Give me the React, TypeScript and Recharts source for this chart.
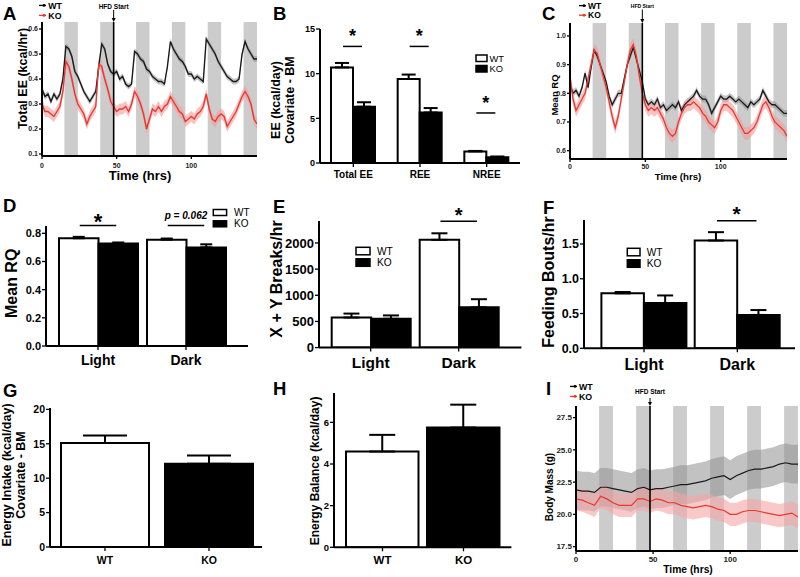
import React from 'react';
import {
  ComposedChart, BarChart, Bar, Line, Area, XAxis, YAxis,
  ReferenceArea, ReferenceLine, ErrorBar, LabelList, Cell,
} from 'recharts';

const FONT = '"Liberation Sans", Arial, Helvetica, sans-serif';

// ---------------- time-course data ----------------
const TIME = [0,2,4,6,8,10,12,14,16,18,20,22,24,26,28,30,32,34,36,38,40,42,44,46,48,50,52,54,56,58,60,62,64,66,68,70,72,74,76,78,80,82,84,86,88,90,92,94,96,98,100,102,104,106,108,110,112,114,116,118,120,122,124,126,128,130,132,134,136,138,140,142,144];
const DARK_START = [15, 39, 63, 87, 111, 135];
const DARK_END = [24, 48, 72, 96, 120, 144];
const HFD_START = 48;
const X_TICKS = [0, 50, 100];

// Panel A: Total EE (kcal/hr)
const A_WT = [
  0.36,0.33,0.34,0.31,0.34,0.32,0.34,0.40,
  0.53,0.52,0.49,0.43,0.41,0.38,0.35,0.33,
  0.31,0.33,0.35,0.45,0.54,0.52,0.46,0.43,
  0.42,0.43,0.40,0.41,0.38,0.37,0.38,0.51,
  0.50,0.48,0.47,0.44,0.43,0.41,0.40,0.39,
  0.39,0.38,0.45,0.55,0.52,0.50,0.48,0.47,
  0.45,0.42,0.42,0.40,0.41,0.40,0.39,0.56,
  0.54,0.52,0.50,0.47,0.45,0.43,0.41,0.40,
  0.39,0.39,0.40,0.50,0.55,0.52,0.50,0.48,
  0.48];
const A_KO = [
  0.30,0.27,0.27,0.26,0.25,0.27,0.29,0.35,
  0.47,0.45,0.40,0.34,0.30,0.28,0.26,0.22,
  0.25,0.27,0.29,0.46,0.45,0.40,0.36,0.31,
  0.29,0.27,0.28,0.28,0.29,0.27,0.30,0.35,
  0.33,0.30,0.26,0.20,0.24,0.28,0.27,0.29,
  0.27,0.29,0.30,0.33,0.31,0.29,0.27,0.26,
  0.23,0.24,0.25,0.24,0.26,0.27,0.29,0.34,
  0.28,0.24,0.23,0.25,0.26,0.25,0.21,0.23,
  0.25,0.27,0.30,0.33,0.35,0.33,0.30,0.24,
  0.22];
const A_WT_SEM = 0.012;
const A_KO_SEM = 0.022;
const A_Y_TICKS = [0.1, 0.2, 0.3, 0.4, 0.5, 0.6];

// Panel C: Mean RQ
const C_WT = [
  0.83,0.80,0.81,0.79,0.82,0.87,0.82,0.89,
  0.95,0.93,0.90,0.87,0.84,0.79,0.76,0.78,
  0.80,0.80,0.85,0.90,0.93,0.96,0.92,0.88,
  0.84,0.78,0.76,0.77,0.76,0.78,0.75,0.76,
  0.74,0.75,0.76,0.75,0.77,0.74,0.76,0.77,
  0.78,0.79,0.81,0.79,0.78,0.78,0.76,0.73,
  0.75,0.77,0.79,0.78,0.78,0.79,0.78,0.77,
  0.78,0.77,0.76,0.75,0.77,0.76,0.77,0.78,
  0.81,0.79,0.77,0.76,0.76,0.75,0.74,0.73,
  0.73];
const C_KO = [
  0.86,0.78,0.74,0.76,0.78,0.80,0.85,0.90,
  0.95,0.94,0.90,0.86,0.82,0.77,0.72,0.68,
  0.72,0.78,0.84,0.90,0.95,0.97,0.93,0.86,
  0.80,0.76,0.74,0.75,0.74,0.75,0.73,0.71,
  0.68,0.66,0.65,0.66,0.70,0.73,0.75,0.76,
  0.76,0.77,0.76,0.75,0.73,0.72,0.70,0.69,
  0.68,0.70,0.74,0.76,0.76,0.75,0.74,0.72,
  0.70,0.68,0.66,0.66,0.67,0.68,0.70,0.73,
  0.76,0.77,0.75,0.72,0.70,0.69,0.68,0.67,
  0.65];
const C_WT_SEM = 0.012;
const C_KO_SEM = 0.022;
const C_Y_TICKS = [0.6, 0.7, 0.8, 0.9, 1.0];

// Panel I: Body mass (g)
const I_TIME = [0,4,8,12,16,20,24,28,32,36,40,44,48,52,56,60,64,68,72,76,80,84,88,92,96,100,104,108,112,116,120,124,128,132,136,140,144];
const I_WT = [21.9,21.8,21.8,21.7,22.1,22.1,22.0,21.9,21.8,21.7,22.0,22.1,21.9,22.0,22.0,22.1,22.2,22.3,22.3,22.4,22.5,22.6,22.8,22.9,23.0,22.7,23.0,23.2,23.4,23.5,23.5,23.6,23.7,23.9,24.0,23.9,23.9];
const I_KO = [21.2,21.1,20.9,20.7,21.4,21.2,20.9,20.7,20.7,20.7,21.2,21.2,21.0,21.2,21.1,20.9,20.9,20.7,20.6,20.5,20.6,20.7,20.6,20.4,20.3,20.0,20.0,20.2,20.3,20.3,20.2,20.1,20.0,19.9,20.0,20.1,19.8];
const I_WT_SEM = 1.5;
const I_KO_SEM = 0.9;
const I_Y_TICKS = [17.5, 20, 22.5, 25, 27.5];

// ---------------- bar data ----------------
const B_CATS = ['Total EE', 'REE', 'NREE'];
const B_WT = [10.7, 9.4, 1.3];
const B_WT_SEM = [0.5, 0.5, 0.05];
const B_KO = [6.3, 5.65, 0.65];
const B_KO_SEM = [0.5, 0.5, 0.08];
const B_SIG = [13.05, 13.05, 5.6];
const B_MARK = ['*', '*', '*'];
const B_Y_TICKS = [0, 5, 10, 15];

const LD_CATS = ['Light', 'Dark'];
const D_WT = [0.765, 0.755];
const D_WT_SEM = [0.01, 0.008];
const D_KO = [0.727, 0.70];
const D_KO_SEM = [0.008, 0.022];
const D_SIG = [0.855, 0.855];
const D_MARK = ['*', 'p = 0.062'];
const D_Y_TICKS = [0, 0.2, 0.4, 0.6, 0.8];

const E_WT = [575, 2060];
const E_WT_SEM = [75, 125];
const E_KO = [550, 770];
const E_KO_SEM = [65, 155];
const E_SIG = [null, 2413];
const E_MARK = ['', '*'];
const E_Y_TICKS = [0, 500, 1000, 1500, 2000];

const F_WT = [0.79, 1.55];
const F_WT_SEM = [0.02, 0.12];
const F_KO = [0.65, 0.48];
const F_KO_SEM = [0.11, 0.07];
const F_SIG = [null, 1.833];
const F_MARK = ['', '*'];
const F_Y_TICKS = [0, 0.5, 1.0, 1.5];

const GENO = ['WT', 'KO'];
const G_VAL = [15.1, 12.1];
const G_SEM = [1.1, 1.2];
const G_Y_TICKS = [0, 5, 10, 15, 20];

const H_VAL = [4.6, 5.75];
const H_SEM = [0.8, 1.1];
const H_Y_TICKS = [0, 2, 4, 6];

const GENO_FILL = ['#ffffff', '#000000'];

// ---------------- helpers ----------------
type Rect = { x0: number; y0: number; x1: number; y1: number };
const AXIS = { stroke: '#000', strokeWidth: 2 };
const TICKLINE = { stroke: '#000', strokeWidth: 1.3 };
const fmt1 = (v: number) => v.toFixed(1);
const fmt0 = (v: number) => String(v);

function place(plot: Rect, yW: number, xH: number, mt: number, mr: number) {
  return {
    left: plot.x0 - yW,
    top: plot.y0 - mt,
    width: plot.x1 - plot.x0 + yW + mr,
    height: plot.y1 - plot.y0 + mt + xH,
  };
}

const hfdLabel = (dyText: number, arrowLen: number, fs: number) => (p: any) => {
  const vb = p && p.viewBox ? p.viewBox : p;
  if (!vb || vb.x == null) return null;
  const x = vb.x;
  const y = vb.height < 0 ? vb.y + vb.height : vb.y;
  return (
    <g>
      <line x1={x} x2={x} y1={y - arrowLen} y2={y - 3} stroke="#000" strokeWidth={1} />
      <path d={`M${x - 2},${y - 4} L${x + 2},${y - 4} L${x},${y} Z`} fill="#000" />
      <text x={x} y={y + dyText} textAnchor="middle" fontSize={fs} fontWeight={700} fontFamily={FONT} fill="#000">HFD Start</text>
    </g>
  );
};

function TimePanel(props: {
  plot: Rect; mt: number; time: number[]; wt: number[]; ko: number[]; wtSem: number; koSem: number;
  domain: [number, number]; yTicks: number[]; tickFs: number; xTickMargin: number;
  hfdDy: number; hfdArrow: number; hfdFs: number; wtBand: string; koBand: string; wtOp: number; koOp: number; lw: number;
}) {
  const yW = 30, xH = 22, mr = 2;
  const pos = place(props.plot, yW, xH, props.mt, mr);
  const data = props.time.map((t, i) => ({
    t,
    wt: props.wt[i],
    ko: props.ko[i],
    wtBand: [props.wt[i] - props.wtSem, props.wt[i] + props.wtSem],
    koBand: [props.ko[i] - props.koSem, props.ko[i] + props.koSem],
  }));
  const tick = { fontSize: props.tickFs, fontWeight: 700, fill: '#222', fontFamily: FONT };
  return (
    <div style={{ position: 'absolute', left: pos.left, top: pos.top }}>
      <ComposedChart width={pos.width} height={pos.height} data={data} margin={{ top: props.mt, right: mr, left: 0, bottom: 0 }}>
        <XAxis type="number" dataKey="t" domain={[0, 144]} ticks={X_TICKS} allowDataOverflow interval={0}
          height={xH} axisLine={AXIS} tickLine={TICKLINE} tickSize={3} tickMargin={props.xTickMargin} tick={tick} />
        <YAxis type="number" domain={props.domain} ticks={props.yTicks} allowDataOverflow interval={0}
          width={yW} axisLine={AXIS} tickLine={TICKLINE} tickSize={3} tickMargin={1} tick={tick} tickFormatter={fmt1} />
        {DARK_START.map((s, i) => (
          <ReferenceArea key={i} x1={s} x2={DARK_END[i]} fill="#cccccc" fillOpacity={1} stroke="none" />
        ))}
        <Area type="linear" dataKey="wtBand" stroke="none" fill={props.wtBand} fillOpacity={props.wtOp} isAnimationActive={false} activeDot={false} />
        <Area type="linear" dataKey="koBand" stroke="none" fill={props.koBand} fillOpacity={props.koOp} isAnimationActive={false} activeDot={false} />
        <Line type="linear" dataKey="wt" stroke="#1a1a1a" strokeWidth={props.lw} dot={false} activeDot={false} isAnimationActive={false} />
        <Line type="linear" dataKey="ko" stroke="#e8392f" strokeWidth={props.lw} dot={false} activeDot={false} isAnimationActive={false} />
        <ReferenceLine x={HFD_START} stroke="#000" strokeWidth={1.6} label={hfdLabel(props.hfdDy, props.hfdArrow, props.hfdFs)} />
      </ComposedChart>
    </div>
  );
}

const makeSig = (vals: number[], sig: (number | null)[], marks: string[], starFs: number, starDy: number) => (p: any) => {
  const vb = p && p.viewBox && p.viewBox.width != null ? p.viewBox : p;
  const i = p.index;
  if (i == null || !vb) return null;
  const s = sig[i];
  if (s == null || !(vb.height > 0)) return null;
  const base = vb.y + vb.height;
  const ly = base - (s * vb.height) / vals[i];
  const xa = vb.x + vb.width / 2 + 1;
  const xb = vb.x + vb.width * 1.5 - 2;
  const cx = (xa + xb) / 2;
  const m = marks[i];
  return (
    <g>
      <line x1={xa} x2={xb} y1={ly} y2={ly} stroke="#000" strokeWidth={1.5} />
      {m === '*' ? (
        <text x={cx} y={ly + starDy} textAnchor="middle" fontSize={starFs} fontWeight={700} fontFamily={FONT} fill="#000">*</text>
      ) : (
        <text x={cx} y={ly - 7} textAnchor="middle" fontSize={10} fontWeight={700} fontStyle="italic" fontFamily={FONT} fill="#000">{m}</text>
      )}
    </g>
  );
};

function GroupBars(props: {
  plot: Rect; mt: number; cats: string[]; wt: number[]; wtSem: number[]; ko: number[]; koSem: number[];
  sig: (number | null)[]; marks: string[]; domain: [number, number]; yTicks: number[]; fmt: (v: number) => string;
  padL: number; padR: number; barSize: number; cap: number; tickFs: number; catFs: number; catMargin: number;
  starFs: number; starDy: number; yW: number;
}) {
  const xH = 30, mr = 2;
  const pos = place(props.plot, props.yW, xH, props.mt, mr);
  const data = props.cats.map((c, i) => ({
    c, wt: props.wt[i], ko: props.ko[i], wtE: [0, props.wtSem[i]], koE: [0, props.koSem[i]], sig: props.sig[i],
  }));
  return (
    <div style={{ position: 'absolute', left: pos.left, top: pos.top }}>
      <BarChart width={pos.width} height={pos.height} data={data} barGap={0} barSize={props.barSize}
        margin={{ top: props.mt, right: mr, left: 0, bottom: 0 }}>
        <XAxis dataKey="c" padding={{ left: props.padL, right: props.padR }} height={xH} axisLine={AXIS} tickLine={TICKLINE}
          tickSize={4} tickMargin={props.catMargin} interval={0}
          tick={{ fontSize: props.catFs, fontWeight: 700, fill: '#000', fontFamily: FONT }} />
        <YAxis type="number" domain={props.domain} ticks={props.yTicks} allowDataOverflow interval={0} width={props.yW}
          axisLine={AXIS} tickLine={TICKLINE} tickSize={4} tickMargin={1} tickFormatter={props.fmt}
          tick={{ fontSize: props.tickFs, fontWeight: 700, fill: '#000', fontFamily: FONT }} />
        <Bar dataKey="wt" fill="#ffffff" stroke="#000" strokeWidth={2} isAnimationActive={false}>
          <ErrorBar dataKey="wtE" width={props.cap} stroke="#000" strokeWidth={2} direction="y" />
          <LabelList dataKey="sig" content={makeSig(props.wt, props.sig, props.marks, props.starFs, props.starDy)} />
        </Bar>
        <Bar dataKey="ko" fill="#000000" stroke="#000" strokeWidth={2} isAnimationActive={false}>
          <ErrorBar dataKey="koE" width={props.cap} stroke="#000" strokeWidth={2} direction="y" />
        </Bar>
      </BarChart>
    </div>
  );
}

function GenoBars(props: {
  plot: Rect; mt: number; vals: number[]; sems: number[]; domain: [number, number]; yTicks: number[];
  padL: number; padR: number; barSize: number; cap: number; tickFs: number; catFs: number; catMargin: number; yW: number;
}) {
  const xH = 30, mr = 2;
  const pos = place(props.plot, props.yW, xH, props.mt, mr);
  const data = GENO.map((c, i) => ({ c, v: props.vals[i], e: [0, props.sems[i]] }));
  return (
    <div style={{ position: 'absolute', left: pos.left, top: pos.top }}>
      <BarChart width={pos.width} height={pos.height} data={data} barSize={props.barSize}
        margin={{ top: props.mt, right: mr, left: 0, bottom: 0 }}>
        <XAxis dataKey="c" padding={{ left: props.padL, right: props.padR }} height={xH} axisLine={AXIS} tickLine={TICKLINE}
          tickSize={4} tickMargin={props.catMargin} interval={0}
          tick={{ fontSize: props.catFs, fontWeight: 700, fill: '#000', fontFamily: FONT }} />
        <YAxis type="number" domain={props.domain} ticks={props.yTicks} allowDataOverflow interval={0} width={props.yW}
          axisLine={AXIS} tickLine={TICKLINE} tickSize={4} tickMargin={1} tickFormatter={fmt0}
          tick={{ fontSize: props.tickFs, fontWeight: 700, fill: '#000', fontFamily: FONT }} />
        <Bar dataKey="v" stroke="#000" strokeWidth={2} isAnimationActive={false}>
          {GENO.map((g, i) => <Cell key={g} fill={GENO_FILL[i]} />)}
          <ErrorBar dataKey="e" width={props.cap} stroke="#000" strokeWidth={2} direction="y" />
        </Bar>
      </BarChart>
    </div>
  );
}

// overlay text helpers
const Txt = (p: { x: number; y: number; s: number; w?: number; a?: 'start' | 'middle' | 'end'; t: string; c?: string }) => (
  <text x={p.x} y={p.y} fontSize={p.s} fontWeight={p.w ?? 700} textAnchor={p.a ?? 'start'} fill={p.c ?? '#000'} fontFamily={FONT}>{p.t}</text>
);
const VTxt = (p: { x: number; y: number; s: number; t: string }) => (
  <text transform={`translate(${p.x},${p.y}) rotate(-90)`} x={0} y={0} fontSize={p.s} fontWeight={700} textAnchor="middle" fill="#000" fontFamily={FONT}>{p.t}</text>
);
const Mark = (p: { x: number; y: number; c: string }) => (
  <g>
    <line x1={p.x} x2={p.x + 7} y1={p.y} y2={p.y} stroke={p.c} strokeWidth={1.3} />
    <circle cx={p.x + 5} cy={p.y} r={1.4} fill={p.c} />
  </g>
);
const Box = (p: { x: number; y: number; w: number; h: number; fill: string }) => (
  <rect x={p.x} y={p.y} width={p.w} height={p.h} fill={p.fill} stroke="#000" strokeWidth={1.5} />
);
// box legend: WT (open) above KO (filled); y = baseline of WT text
const BoxLegend = (p: { bx: number; tx: number; y: number; dy: number; s: number; bw: number; bh: number }) => (
  <g>
    <Box x={p.bx} y={p.y - p.bh} w={p.bw} h={p.bh} fill={GENO_FILL[0]} />
    <Box x={p.bx} y={p.y + p.dy - p.bh} w={p.bw} h={p.bh} fill={GENO_FILL[1]} />
    <Txt x={p.tx} y={p.y} s={p.s} w={400} t={GENO[0]} />
    <Txt x={p.tx} y={p.y + p.dy} s={p.s} w={400} t={GENO[1]} />
  </g>
);
const LineLegend = (p: { mx: number; tx: number; y: number; dy: number; s: number }) => (
  <g>
    <Mark x={p.mx} y={p.y - p.s * 0.35} c="#000" />
    <Mark x={p.mx} y={p.y + p.dy - p.s * 0.35} c="#e8392f" />
    <Txt x={p.tx} y={p.y} s={p.s} t={GENO[0]} />
    <Txt x={p.tx} y={p.y + p.dy} s={p.s} t={GENO[1]} />
  </g>
);

export default function App() {
  return (
    <div style={{ position: 'absolute', left: 0, top: 0, width: 800, height: 577, background: '#fff', overflow: 'hidden', fontFamily: FONT }}>
      <TimePanel plot={{ x0: 42, y0: 22, x1: 257, y1: 156 }} mt={22} time={TIME} wt={A_WT} ko={A_KO}
        wtSem={A_WT_SEM} koSem={A_KO_SEM} domain={[0.092, 0.628]} yTicks={A_Y_TICKS} tickFs={7} xTickMargin={4.3}
        hfdDy={-13.5} hfdArrow={12} hfdFs={6.5} wtBand="#8a8a8a" koBand="#f29a9a" wtOp={0.5} koOp={0.6} lw={1.4} />
      <TimePanel plot={{ x0: 570, y0: 23, x1: 787, y1: 159 }} mt={23} time={TIME} wt={C_WT} ko={C_KO}
        wtSem={C_WT_SEM} koSem={C_KO_SEM} domain={[0.571, 1.045]} yTicks={C_Y_TICKS} tickFs={7} xTickMargin={2}
        hfdDy={-14.7} hfdArrow={13.5} hfdFs={5} wtBand="#8a8a8a" koBand="#f29a9a" wtOp={0.5} koOp={0.6} lw={1.3} />
      <TimePanel plot={{ x0: 576, y0: 406, x1: 798, y1: 551 }} mt={24} time={I_TIME} wt={I_WT} ko={I_KO}
        wtSem={I_WT_SEM} koSem={I_KO_SEM} domain={[17.16, 28.4]} yTicks={I_Y_TICKS} tickFs={8} xTickMargin={2}
        hfdDy={-12} hfdArrow={8} hfdFs={6.5} wtBand="#8f8f8f" koBand="#f5a5a5" wtOp={0.55} koOp={0.6} lw={1.2} />

      <GroupBars plot={{ x0: 320, y0: 29.3, x1: 520, y1: 163.3 }} mt={5} cats={B_CATS} wt={B_WT} wtSem={B_WT_SEM}
        ko={B_KO} koSem={B_KO_SEM} sig={B_SIG} marks={B_MARK} domain={[0, 15]} yTicks={B_Y_TICKS} fmt={fmt0}
        padL={0} padR={0} barSize={22} cap={7} tickFs={9} catFs={10} catMargin={3.6} starFs={18} starDy={-4} yW={40} />
      <GroupBars plot={{ x0: 46, y0: 226, x1: 248, y1: 346 }} mt={25} cats={LD_CATS} wt={D_WT} wtSem={D_WT_SEM}
        ko={D_KO} koSem={D_KO_SEM} sig={D_SIG} marks={D_MARK} domain={[0, 0.852]} yTicks={D_Y_TICKS} fmt={fmt1}
        padL={8} padR={18} barSize={39.5} cap={6} tickFs={11} catFs={14} catMargin={5.1} starFs={22} starDy={3.3} yW={40} />
      <GroupBars plot={{ x0: 319.3, y0: 220.7, x1: 521.7, y1: 347.3 }} mt={20} cats={LD_CATS} wt={E_WT} wtSem={E_WT_SEM}
        ko={E_KO} koSem={E_KO_SEM} sig={E_SIG} marks={E_MARK} domain={[0, 2420]} yTicks={E_Y_TICKS} fmt={fmt0}
        padL={7.7} padR={18.7} barSize={39.5} cap={8} tickFs={13} catFs={15.5} catMargin={5.5} starFs={20} starDy={1} yW={40} />
      <GroupBars plot={{ x0: 584, y0: 220, x1: 795, y1: 348.3 }} mt={20} cats={LD_CATS} wt={F_WT} wtSem={F_WT_SEM}
        ko={F_KO} koSem={F_KO_SEM} sig={F_SIG} marks={F_MARK} domain={[0, 1.845]} yTicks={F_Y_TICKS} fmt={fmt1}
        padL={13.4} padR={11} barSize={42.5} cap={8} tickFs={12.5} catFs={16} catMargin={6.1} starFs={21} starDy={0.3} yW={40} />

      <GenoBars plot={{ x0: 50, y0: 408, x1: 262, y1: 547 }} mt={5} vals={G_VAL} sems={G_SEM} domain={[0, 20.2]}
        yTicks={G_Y_TICKS} padL={3} padR={1} barSize={88} cap={22} tickFs={10.5} catFs={10.5} catMargin={5.5} yW={40} />
      <GenoBars plot={{ x0: 334.3, y0: 393, x1: 511.7, y1: 547.3 }} mt={5} vals={H_VAL} sems={H_SEM} domain={[0, 7.41]}
        yTicks={H_Y_TICKS} padL={8} padR={7.4} barSize={72.5} cap={13} tickFs={9.5} catFs={11.5} catMargin={4.5} yW={40} />

      <svg width={800} height={577} style={{ position: 'absolute', left: 0, top: 0, pointerEvents: 'none' }}>
        {/* panel letters */}
        <Txt x={3} y={20} s={18.5} t="A" />
        <Txt x={273} y={20} s={18.5} t="B" />
        <Txt x={542} y={20} s={18.5} t="C" />
        <Txt x={3} y={212} s={18.5} t="D" />
        <Txt x={273} y={213} s={18.5} t="E" />
        <Txt x={543} y={214} s={18.5} t="F" />
        <Txt x={3} y={397} s={18.5} t="G" />
        <Txt x={273} y={395} s={18.5} t="H" />
        <Txt x={546} y={395} s={18.5} t="I" />

        {/* A */}
        <LineLegend mx={39} tx={48.3} y={8.5} dy={10} s={8.8} />
        <VTxt x={26.7} y={78.5} s={12.5} t="Total EE (kcal/hr)" />
        <Txt x={140} y={180.3} s={13} a="middle" t="Time (hrs)" />

        {/* B */}
        <VTxt x={280} y={100} s={12.5} t="EE (kcal/day)" />
        <VTxt x={294} y={100} s={12.5} t="Covariate - BM" />
        <BoxLegend bx={476} tx={489.5} y={61.5} dy={10.5} s={9.3} bw={11} bh={6.5} />

        {/* C */}
        <LineLegend mx={579} tx={588} y={8.6} dy={9.6} s={8.5} />
        <VTxt x={558} y={95} s={9.5} t="Mean RQ" />
        <Txt x={678} y={179.7} s={9.7} a="middle" t="Time (hrs)" />

        {/* D */}
        <VTxt x={16.5} y={283.3} s={16} t="Mean RQ" />
        <BoxLegend bx={213.3} tx={234} y={215.5} dy={11.3} s={10} bw={13.3} bh={6} />

        {/* E */}
        <VTxt x={281.5} y={279} s={16} t="X + Y Breaks/hr" />
        <BoxLegend bx={356} tx={377} y={254.8} dy={11.5} s={10.2} bw={14} bh={7.5} />

        {/* F */}
        <VTxt x={554} y={282} s={16} t="Feeding Bouts/hr" />
        <BoxLegend bx={627.3} tx={646.7} y={255.8} dy={11.5} s={10.2} bw={12.7} bh={7.5} />

        {/* G */}
        <VTxt x={11} y={475} s={12.5} t="Energy Intake (kcal/day)" />
        <VTxt x={24.5} y={475} s={12.5} t="Covariate - BM" />

        {/* H */}
        <VTxt x={318.6} y={471} s={12} t="Energy Balance (kcal/day)" />

        {/* I */}
        <LineLegend mx={570} tx={579} y={389.5} dy={10} s={8.8} />
        <VTxt x={553} y={487} s={10} t="Body Mass (g)" />
        <Txt x={688} y={573} s={10.3} a="middle" t="Time (hrs)" />
      </svg>
    </div>
  );
}
